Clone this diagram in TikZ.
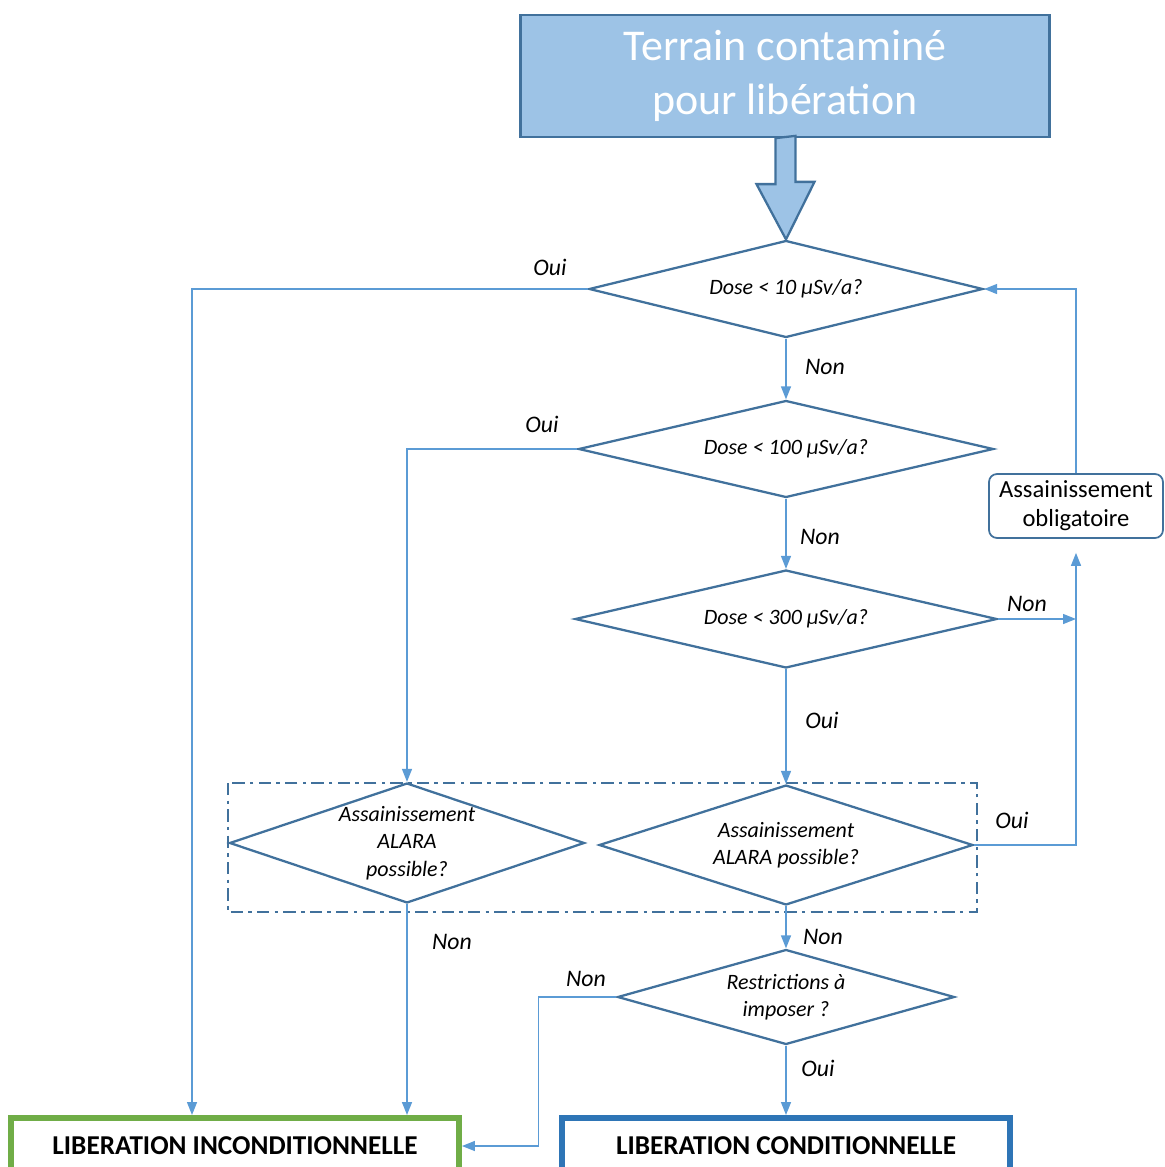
\documentclass[tikz,border=0pt]{standalone}
\usepackage{fontspec}
\setmainfont{Carlito}
\usepackage{xcolor}
\usepackage{tikz}
\usetikzlibrary{shapes.geometric, arrows.meta}

\definecolor{boxblue}{HTML}{9DC3E6}
\definecolor{lineblue}{HTML}{41719C}
\definecolor{flowblue}{HTML}{5B9BD5}
\definecolor{incgreen}{HTML}{70AD47}
\definecolor{condblue}{HTML}{2E75B6}

\begin{document}
\begin{tikzpicture}[x=0.02cm, y=-0.02cm,
    decision/.style={diamond, draw=lineblue, line width=1.3pt, inner sep=0pt},
    dtext/.style={font=\fontsize{12.5}{15.5}\selectfont\itshape, align=center},
    answer/.style={font=\fontsize{13.5}{16}\selectfont\itshape},
    flow/.style={draw=flowblue, line width=0.8pt, -{Triangle[length=0.26cm, width=0.2cm]}},
    bigarrow/.style={draw=lineblue, line width=1.3pt, fill=boxblue},
    result/.style={draw, line width=3.4pt, minimum width=8.96cm, minimum height=1.12cm,
        font=\fontsize{15.5}{18}\selectfont\bfseries}]
            \clip (0, 0) rectangle (1164, 1167);

            \node[draw=lineblue, line width=1.3pt, fill=boxblue, text=white, align=center,
                minimum width=10.58cm, minimum height=2.44cm,
                font=\fontsize{25}{31}\selectfont] (terrain) at (785, 76) {Terrain contaminé\\pour libération};

            \node[decision, minimum width=7.88cm, minimum height=1.94cm,
                label={[dtext]center:{Dose < 10 µSv/a?}}] (d1) at (786, 289) {};
            \node[decision, minimum width=8.3cm, minimum height=1.94cm,
                label={[dtext]center:{Dose < 100 µSv/a?}}] (d2) at (786, 449) {};
            \node[decision, minimum width=8.44cm, minimum height=1.96cm,
                label={[dtext]center:{Dose < 300 µSv/a?}}] (d3) at (786, 619) {};
            \node[decision, minimum width=7.1cm, minimum height=2.4cm,
                label={[dtext]center:{Assainissement\\ALARA\\possible?}}] (alara1) at (407, 843) {};
            \node[decision, minimum width=7.48cm, minimum height=2.4cm,
                label={[dtext]center:{Assainissement\\ALARA possible?}}] (alara2) at (786, 845) {};
            \node[decision, minimum width=6.74cm, minimum height=1.9cm,
                label={[dtext]center:{Restrictions à\\imposer ?}}] (restr) at (786, 997) {};

            \node[draw=lineblue, line width=1pt, rounded corners=0.16cm, align=center,
                minimum width=3.48cm, minimum height=1.28cm,
                font=\fontsize{14}{16.5}\selectfont] (oblig) at (1076, 506) {Assainissement\\obligatoire};

            \node[result, draw=incgreen] (inc) at (235, 1146) {LIBERATION INCONDITIONNELLE};
            \node[result, draw=condblue] (cond) at (786, 1146) {LIBERATION CONDITIONNELLE};

            \draw[lineblue, line width=1.4pt, dash pattern=on 7pt off 3pt on 2pt off 3pt]
                (228, 783) rectangle (977, 912); % ALARA frame

            \draw[bigarrow] ([xshift=-0.19cm]terrain.south) -- ++(0, 46) -- ++(-19, 0)
                -- (d1.north) -- ++(28.5, -57.5) -- ++(-19, 0) -- ++(0, -46) -- cycle;

            \draw[flow] (d1.west) -| ([xshift=-0.86cm]inc.north); % d1 oui
            \draw[flow] (d1.south) -- (d2.north); % d1 non
            \draw[flow] (d2.west) -| (alara1.north); % d2 oui
            \draw[flow] (d2.south) -- (d3.north); % d2 non
            \draw[flow] (d3.east) -- (d3.east -| oblig.south); % d3 non
            \draw[flow] (d3.south) -- (alara2.north); % d3 oui
            \draw[flow, shorten >=0.28cm] (alara2.east) -| (oblig.south); % alara2 oui
            \draw[flow] (oblig.north) |- (d1.east); % retour
            \draw[flow] (alara1.south) -- (alara1.south |- inc.north); % alara1 non
            \draw[flow] (alara2.south) -- (restr.north); % alara2 non
            \draw[flow] (restr.west) -- ++(-78, 0) |- (inc.east); % restr non
            \draw[flow] (restr.south) -- (cond.north); % restr oui

            \node[answer] (oui1) at (550, 267) {Oui};
            \node[answer] (non1) at (825, 367) {Non};
            \node[answer] (oui2) at (542, 424) {Oui};
            \node[answer] (non2) at (820, 537) {Non};
            \node[answer] (non3) at (1027, 604) {Non};
            \node[answer] (oui3) at (822, 720) {Oui};
            \node[answer] (oui4) at (1012, 820) {Oui};
            \node[answer] (non4) at (452, 942) {Non};
            \node[answer] (non5) at (823, 937) {Non};
            \node[answer] (non6) at (586, 979) {Non};
            \node[answer] (oui5) at (818, 1068) {Oui};
        \end{tikzpicture}
\end{document}
